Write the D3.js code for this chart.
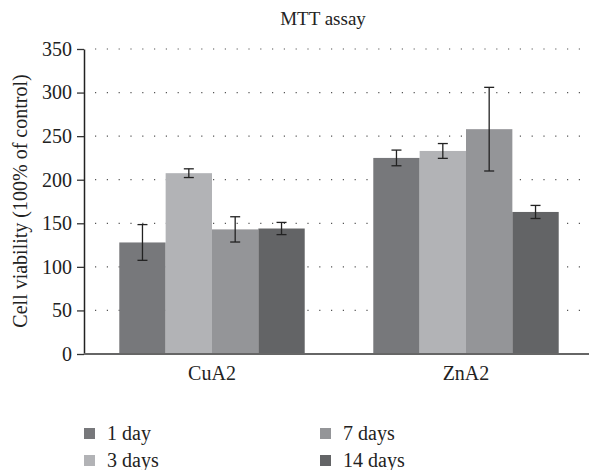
<!DOCTYPE html>
<meta charset="utf-8">
<style>
body { margin: 0; background: #fff; }
text { font-family: "Liberation Serif", "DejaVu Serif", serif; fill: #222; }
</style>
<body>
<svg id="chart" width="589" height="470"></svg>
<script src="https://cdn.jsdelivr.net/npm/d3@7"></script>
<script>
// data
var groups = ["CuA2", "ZnA2"];
var series = ["1 day", "3 days", "7 days", "14 days"];
var means = [
  [128, 207.5, 143, 144],   // CuA2
  [225, 233, 258, 163]      // ZnA2
];
var errs = [
  [20.5, 5, 14.5, 7],
  [9, 8.5, 48, 7.5]
];
var yTicks = [0, 50, 100, 150, 200, 250, 300, 350];
var colors = ["#77787b", "#b2b3b6", "#949598", "#636466"];

var svg = d3.select("#chart");
var x0 = 85, x1 = 593, y0 = 354, y1 = 49;

var xScale0 = d3.scaleBand().domain(groups).range([x0, x1]);
var bw = xScale0.bandwidth();
var xScale1 = d3.scaleBand().domain(series).range([bw * 0.135, bw * 0.865]);
var yScale = d3.scaleLinear().domain([0, 350]).range([y0, y1]);

// dotted grid
svg.append("g").selectAll("line")
  .data(yTicks.filter(d => d > 0))
  .enter().append("line")
  .attr("x1", 95).attr("x2", 589)
  .attr("y1", d => yScale(d)).attr("y2", d => yScale(d))
  .attr("stroke", "#555").attr("stroke-width", 1.2)
  .attr("stroke-dasharray", "1.2,10.6");

// bars
var rows = [];
groups.forEach((g, i) => series.forEach((s, j) => rows.push({g: g, s: s, j: j, v: means[i][j], e: errs[i][j]})));

svg.append("g").selectAll("rect")
  .data(rows)
  .enter().append("rect")
  .attr("x", d => xScale0(d.g) + xScale1(d.s))
  .attr("y", d => yScale(d.v))
  .attr("width", xScale1.bandwidth())
  .attr("height", d => y0 - yScale(d.v))
  .attr("fill", d => colors[d.j]);

// error bars
var eb = svg.append("g").attr("stroke", "#222").attr("stroke-width", 1.3);
rows.forEach(d => {
  var cx = xScale0(d.g) + xScale1(d.s) + xScale1.bandwidth() / 2;
  eb.append("line").attr("x1", cx).attr("x2", cx)
    .attr("y1", yScale(d.v + d.e)).attr("y2", yScale(d.v - d.e));
  [d.v + d.e, d.v - d.e].forEach(v => {
    eb.append("line").attr("x1", cx - 5).attr("x2", cx + 5)
      .attr("y1", yScale(v)).attr("y2", yScale(v));
  });
});

// y axis
var yAxis = svg.append("g")
  .attr("transform", "translate(84,0)")
  .call(d3.axisLeft(yScale).tickValues(yTicks).tickSize(7).tickSizeOuter(0));
yAxis.select(".domain").attr("stroke", "#222").attr("stroke-width", 1.5);
yAxis.selectAll(".tick line").attr("stroke", "#333").attr("stroke-width", 1.3);
yAxis.selectAll(".tick text")
  .attr("x", -12)
  .style("font-family", "Liberation Serif, serif")
  .style("font-size", "20px").attr("fill", "#222");

// x axis
svg.append("line")
  .attr("x1", 84).attr("x2", 589).attr("y1", y0).attr("y2", y0)
  .attr("stroke", "#666").attr("stroke-width", 2);

svg.append("g").selectAll("text")
  .data(groups)
  .enter().append("text")
  .attr("x", d => xScale0(d) + bw / 2)
  .attr("y", 380)
  .attr("text-anchor", "middle")
  .style("font-size", "20px")
  .text(d => d);

// title
svg.append("text")
  .attr("x", 323).attr("y", 25)
  .attr("text-anchor", "middle")
  .style("font-size", "19px")
  .text("MTT assay");

// y label
svg.append("text")
  .attr("transform", "translate(27,201) rotate(-90)")
  .attr("text-anchor", "middle")
  .style("font-size", "20px")
  .text("Cell viability (100% of control)");

// legend
var legend = svg.append("g").selectAll("g")
  .data(series)
  .enter().append("g")
  .attr("transform", (d, i) => `translate(${i < 2 ? 84 : 320},${i % 2 === 0 ? 428 : 455})`);
legend.append("rect")
  .attr("width", 11).attr("height", 11)
  .attr("fill", (d, i) => colors[i]);
legend.append("text")
  .attr("x", 23).attr("y", 12)
  .style("font-size", "20px")
  .text(d => d);
</script>
</body>
